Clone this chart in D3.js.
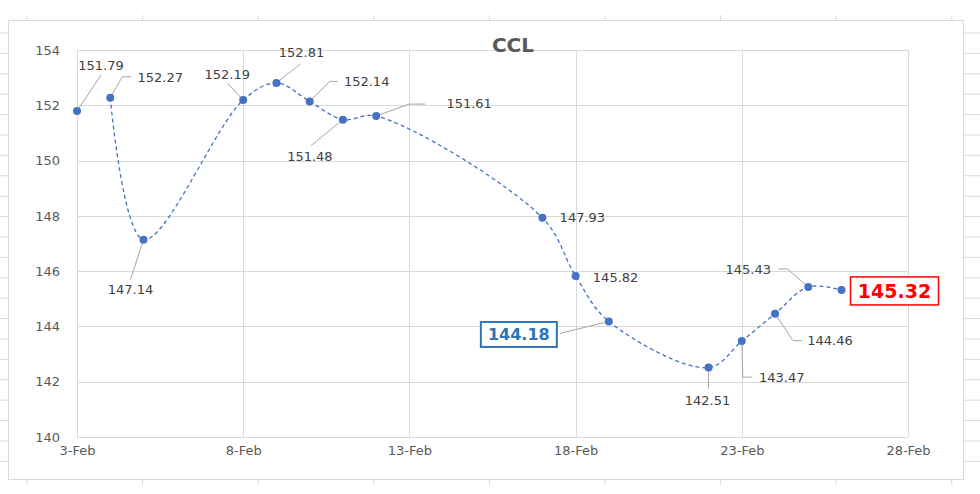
<!DOCTYPE html>
<html>
<head>
<meta charset="utf-8">
<script src="https://cdn.jsdelivr.net/npm/d3@7"></script>
<style>
  html, body { margin: 0; padding: 0; background: #fff; }
  svg { display: block; }
  text { font-family: "DejaVu Sans", sans-serif; }
</style>
</head>
<body>
<svg id="chart" width="980" height="494"></svg>
<script>
// ---------- data ----------
const title = "CCL";
const dates = ["2021-02-03","2021-02-04","2021-02-05","2021-02-08","2021-02-09","2021-02-10",
  "2021-02-11","2021-02-12","2021-02-17","2021-02-18","2021-02-19","2021-02-22",
  "2021-02-23","2021-02-24","2021-02-25","2021-02-26"];
const values = [151.79,152.27,147.14,152.19,152.81,152.14,151.48,151.61,147.93,145.82,
  144.18,142.51,143.47,144.46,145.43,145.32];
// the first point is not joined to the rest of the line in the reference
const connected = [false,true,true,true,true,true,true,true,true,true,true,true,true,true,true,true];
const xTickDates = ["2021-02-03","2021-02-08","2021-02-13","2021-02-18","2021-02-23","2021-02-28"];
const yTicks = [140,142,144,146,148,150,152,154];

// ---------- label layout (px offsets relative to each point) ----------
const labelLayout = [
  {dx: 24, dy: -46, leader: [[0,0],[24,-36]]},
  {dx: 50, dy: -21, leader: [[1,-2],[12,-21],[21,-21]]},
  {dx: -13, dy: 50, leader: [[0,0],[-13,40]]},
  {dx: -16, dy: -26, leader: [[0,0],[-16,-17]]},
  {dx: 25, dy: -31, leader: [[0,0],[24,-19]]},
  {dx: 57, dy: -20, leader: [[0,0],[20,-20],[28,-20]]},
  {dx: -33, dy: 37, leader: [[0,0],[-32,26]]},
  {dx: 93, dy: -13, leader: [[0,0],[33,-12],[49,-12]]},
  {dx: 40, dy: 0, leader: null},
  {dx: 40, dy: 1, leader: null},
  {dx: -90, dy: 13, leader: [[0,0],[-49,12]], box: {w: 76, h: 25, color: "#2e75b6", size: 16, sw: 2}},
  {dx: -1, dy: 33, leader: [[0,0],[0,21]]},
  {dx: 40, dy: 36, leader: [[0,0],[1,36],[10,36]]},
  {dx: 55, dy: 27, leader: [[0,0],[18,27],[27,27]]},
  {dx: -60, dy: -18, leader: [[0,0],[-21,-18],[-30,-18]]},
  {dx: 53, dy: 1, leader: null, box: {w: 88, h: 28, color: "#ff0000", size: 19, sw: 1.5}}
];

const parse = d3.utcParse("%Y-%m-%d");
const data = dates.map((d, i) => ({date: parse(d), value: values[i], connected: connected[i]}));

const svg = d3.select("#chart");

// ---------- spreadsheet frame decoration ----------
const frame = svg.append("g").attr("stroke", "#d9d9d9").attr("fill", "none");
frame.append("rect").attr("x", 8.5).attr("y", 20.5).attr("width", 955).attr("height", 459)
  .attr("fill", "#fff");
d3.range(27, 980, 115.6).forEach(x => {
  frame.append("line").attr("x1", x).attr("x2", x).attr("y1", 15).attr("y2", 20);
  frame.append("line").attr("x1", x).attr("x2", x).attr("y1", 480).attr("y2", 485);
});
d3.range(33, 494, 20.4).forEach(y => {
  if (y > 20 && y < 480) {
    frame.append("line").attr("x1", 0).attr("x2", 8).attr("y1", y).attr("y2", y);
    frame.append("line").attr("x1", 964).attr("x2", 980).attr("y1", y).attr("y2", y);
  }
});

// ---------- scales ----------
const x = d3.scaleUtc().domain([parse("2021-02-03"), parse("2021-02-28")]).range([77, 908]);
const y = d3.scaleLinear().domain([140, 154]).range([437, 50]);

// gridlines
const grid = svg.append("g").attr("stroke", "#d9d9d9").attr("stroke-width", 1);
yTicks.forEach(t => {
  grid.append("line").attr("x1", 77).attr("x2", 908)
    .attr("y1", Math.round(y(t)) + 0.5).attr("y2", Math.round(y(t)) + 0.5);
});
xTickDates.forEach(t => {
  const xx = Math.round(x(parse(t))) + 0.5;
  grid.append("line").attr("x1", xx).attr("x2", xx).attr("y1", 50).attr("y2", 437);
});

// axes
const yAxis = svg.append("g").attr("transform", "translate(77,0)")
  .call(d3.axisLeft(y).tickValues(yTicks).tickSize(0).tickPadding(17).tickFormat(d3.format("d")));
yAxis.select(".domain").remove();
yAxis.selectAll("text").attr("fill", "#595959").style("font-size", "13px")
  .style("font-family", "DejaVu Sans, sans-serif");

const xAxis = svg.append("g").attr("transform", "translate(0,437)")
  .call(d3.axisBottom(x).tickValues(xTickDates.map(parse)).tickSize(0).tickPadding(9)
    .tickFormat(d3.utcFormat("%-d-%b")));
xAxis.select(".domain").remove();
xAxis.selectAll("text").attr("fill", "#595959").style("font-size", "13px")
  .style("font-family", "DejaVu Sans, sans-serif");

// title
svg.append("text").attr("x", 513).attr("y", 52).attr("text-anchor", "middle")
  .attr("fill", "#595959").style("font-size", "20px").style("font-weight", "bold").text(title);

// line (smoothed, dashed)
const line = d3.line().x(d => x(d.date)).y(d => y(d.value)).curve(d3.curveCatmullRom.alpha(0.5));
svg.append("path").datum(data.filter(d => d.connected)).attr("d", line).attr("fill", "none")
  .attr("stroke", "#4472c4").attr("stroke-width", 1.3).attr("stroke-dasharray", "4,3");

// leaders
const lg = svg.append("g").attr("fill", "none").attr("stroke", "#a6a6a6").attr("stroke-width", 1);
data.forEach((d, i) => {
  const L = labelLayout[i];
  if (!L.leader) return;
  const px = x(d.date), py = y(d.value);
  lg.append("path").attr("d", d3.line()(L.leader.map(p => [px + p[0], py + p[1]])));
});

// markers
svg.append("g").selectAll("circle").data(data).join("circle")
  .attr("cx", d => x(d.date)).attr("cy", d => y(d.value)).attr("r", 4)
  .attr("fill", "#4472c4");

// labels
const fmt = d3.format(".2f");
data.forEach((d, i) => {
  const L = labelLayout[i];
  const cx = x(d.date) + L.dx, cy = y(d.value) + L.dy;
  if (L.box) {
    svg.append("rect").attr("x", cx - L.box.w / 2).attr("y", cy - L.box.h / 2)
      .attr("width", L.box.w).attr("height", L.box.h).attr("fill", "#fff")
      .attr("stroke", L.box.color).attr("stroke-width", L.box.sw);
    svg.append("text").attr("x", cx).attr("y", cy).attr("dy", "0.36em")
      .attr("text-anchor", "middle").attr("fill", L.box.color)
      .style("font-size", L.box.size + "px").style("font-weight", "bold").text(fmt(d.value));
  } else {
    svg.append("text").attr("x", cx).attr("y", cy).attr("dy", "0.36em")
      .attr("text-anchor", "middle").attr("fill", "#404040")
      .style("font-size", "13px").text(fmt(d.value));
  }
});
</script>
</body>
</html>
